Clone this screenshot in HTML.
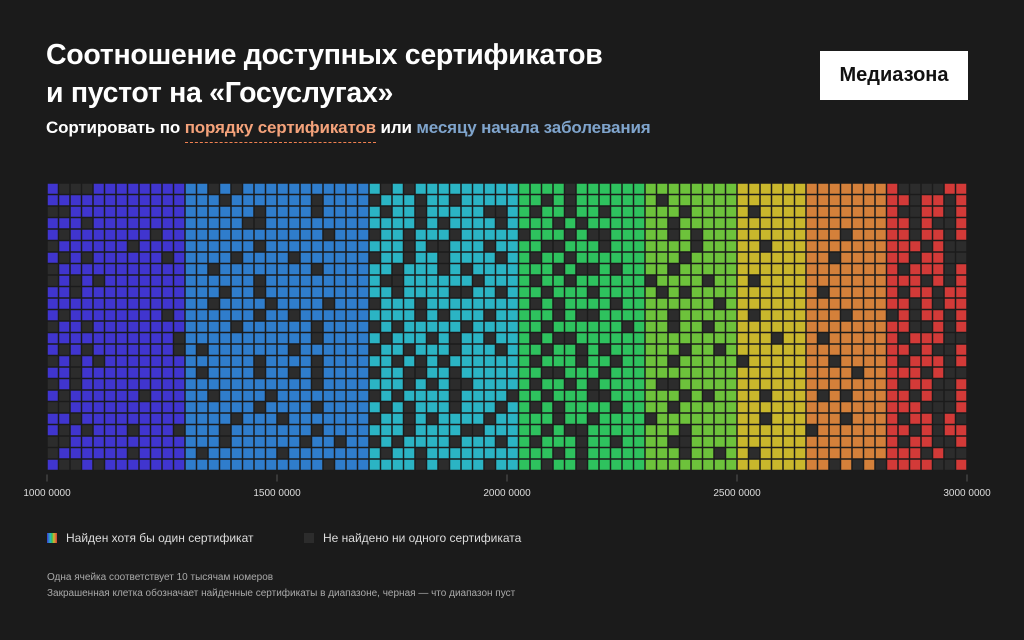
<!DOCTYPE html>
<html><head><meta charset="utf-8">
<style>
body{margin:0;background:#1b1b1b;width:1024px;height:640px;overflow:hidden;font-family:"Liberation Sans",sans-serif;position:relative}
.t{position:absolute;color:#fff;font-weight:bold;white-space:nowrap}
#title{left:46px;top:36px;font-size:28.5px;line-height:38px;letter-spacing:-0.3px}
#sub{left:46px;top:118px;font-size:17px;letter-spacing:-0.15px}
.or{color:#f4a27a;border-bottom:1px dashed #f08050;padding-bottom:5px}
.bl{color:#7fa4cc}
#logo{position:absolute;left:820px;top:51px;width:148px;height:49px;background:#fff;color:#111;font-weight:bold;font-size:20px;line-height:49px;text-align:center}
.tick{position:absolute;top:488px;font-size:10px;color:#ddd;transform:translateX(-50%)}
.leg{position:absolute;top:531px;font-size:12px;color:#ddd}
.note{position:absolute;left:47px;font-size:10px;color:#aaa}
</style></head><body>
<div class="t" id="title">Соотношение доступных сертификатов<br>и пустот на «Госуслугах»</div>
<div class="t" id="sub">Сортировать по <span class="or">порядку сертификатов</span> или <span class="bl">месяцу начала заболевания</span></div>
<div id="logo">Медиазона</div>
<svg id="chart" width="1024" height="640" style="position:absolute;left:0;top:0"></svg>
<div class="leg" style="left:47px"><span style="display:inline-block;width:10px;height:10px;background:linear-gradient(90deg,#4035cf,#2f7dcc,#2bb4c4,#2ec25e,#c9b72c,#d4803a,#d33a38);vertical-align:-1px;margin-right:9px"></span>Найден хотя бы один сертификат</div>
<div class="leg" style="left:304px"><span style="display:inline-block;width:10px;height:10px;background:#2c2c2c;vertical-align:-1px;margin-right:9px"></span>Не найдено ни одного сертификата</div>
<div class="note" style="top:572px">Одна ячейка соответствует 10 тысячам номеров</div>
<div class="note" style="top:588px">Закрашенная клетка обозначает найденные сертификаты в диапазоне, черная — что диапазон пуст</div>
<script>
const tickValues=[10000000,15000000,20000000,25000000,30000000];
const tickLabels=["1000 0000","1500 0000","2000 0000","2500 0000","3000 0000"];
const bandColors=["#4035cf","#2f7dcc","#2bb4c4","#2ec25e","#6dc23b","#c9b72c","#d4803a","#d33a38"];
const bandStarts=[0,12,28,41,52,60,66,73];
const rows=[
"#...######## ##.#.########### #.#.######### ####.###### ######## ###### ####### #....##",
"############ ###.#######.#### .###.##.##### ##.#.###### #.###### ###### ####### ##.##.#",
"..########## ######.####.#### #.##.#####..# #.##.##.### ###.#### #.#### ####### #..##.#",
"###.######## #####..######### ####.#.####.# ###.#.##### ##.##### ###### ####### ##.#..#",
"#.#######.## ############.### .##.###.##### .###.#..### ##.#.### ###### ###.### ##.##.#",
".######.#### ######.######### ###.#..###.## ##..###.### ####.### ##.### ####### ###.#..",
"#.#.######.# ####.####.###### .##.##.####.# #.##.###### ###.#### ###### ##.#### ##.##..",
".########### ##.########.#### ##.###.#.#### ###.#..#.## ##.##### ###### ####### #.###.#",
".#.#.####### ######.######### #..######.### #.##.###### .####.## #.#### ####### ###.#.#",
"##.######### ###.##.######### ##.####..##.# ##.###.#### #.#.#### ###### #.##### #.##.##",
"############ ##.####.####.### .###.######## #.#.####.## ######.# ###### ####### ##.#.##",
"#.########.# ######.##.###### ####.#.###.## ###.#..#### ##.##### #.#### ###.### .#.##.#",
".##.######## ####.######.#### .#.#####.#### ##.######.# ##.##.## ###### ####### ##..#.#",
"###########. ###########.#### #.###.#.##.## #.#..###### ######## ###.## #.##### #.###..",
"#.#.#######. #.#######.###### .##.###.###.# ##.##.#.### ###.##.# ###### ####### ##.#..#",
".#.#.####### ######.####.#### ##.#.#.###### #.###.##.## ##.##### .##### ##.#### #.###.#",
"##.######### #.####.##.#.#### .##..##.##### ##..###.### ######## ###### ####.## ###.#..",
".#.######### ###########.#### ###.#.#..#### #.##.#.#### #..##### ###### ####### #.##..#",
"#.######.### ##.####.######## .#.####.####. ##.###..### ###.#.## ##.### #.#.### ##.#..#",
"..########## ######.####.#### #.#.###.###.# #.#.####.## ##.##### ###### ####### ###...#",
"##.######### ####.###.####### .##.#.####.## ###.##.#### .####### ##.### ###.### #.##.#.",
"#.#.###.###. ###.#######.#### ###.####..### ##.#..##### ###.#### ###### .###### ##.#.##",
"..########## ###.######.##.## .#.####.###.# #.###.##.## ##..#### ###### ####### #.##..#",
".######.#### #.######.####### #.##.######## ###.#.##### ###.##.# #.#### ####### ###.#..",
"#..#.####### ############.### ####.#.###.## ##.##.##### ######## ###### ##.#.#. ####..#"
];
const NS="http://www.w3.org/2000/svg",svg=document.getElementById('chart');
const x0=47,x1=967,y0=183,rowsN=25,colsN=80,cw=(x1-x0)/colsN;
const vmin=10000000,vmax=30000000;
const xScale=v=>x0+(v-vmin)/(vmax-vmin)*(x1-x0);
const bandOf=c=>{let b=0;bandStarts.forEach((s,i)=>{if(c>=s)b=i});return b;};
rows.forEach((r,ri)=>{
  const s=r.replace(/ /g,'');
  for(let c=0;c<colsN;c++){
    const filled=(s[c]||'#')!=='.';
    const el=document.createElementNS(NS,'rect');
    el.setAttribute('x',x0+c*cw+0.75);el.setAttribute('y',y0+ri*cw+0.75);
    el.setAttribute('width',cw-1.5);el.setAttribute('height',cw-1.5);
    el.setAttribute('fill',filled?bandColors[bandOf(c)]:'#2c2c2c');
    
    
    svg.appendChild(el);
  }
});
tickValues.forEach((v,i)=>{
  const x=xScale(v);
  const ln=document.createElementNS(NS,'line');
  ln.setAttribute('x1',x);ln.setAttribute('x2',x);ln.setAttribute('y1',y0+rowsN*cw+4);ln.setAttribute('y2',y0+rowsN*cw+11);
  ln.setAttribute('stroke','#555');
  
  
  svg.appendChild(ln);
  const d=document.createElement('div');d.className='tick';d.style.left=x+'px';d.textContent=tickLabels[i];
  
  
  document.body.appendChild(d);
});
</script>
</body></html>
